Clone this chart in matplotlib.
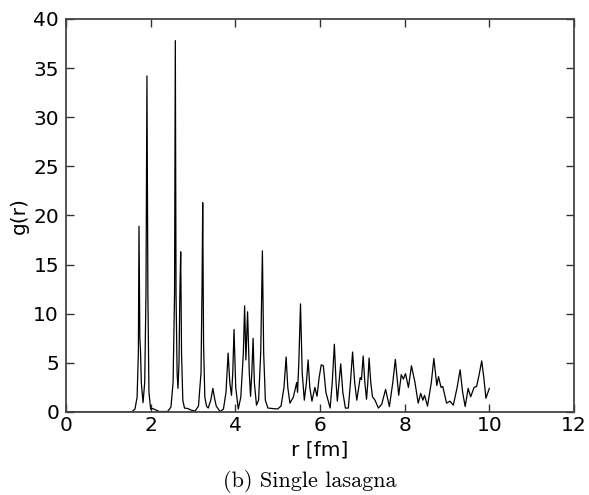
import matplotlib
matplotlib.use("Agg")
import matplotlib.pyplot as plt

# g(r) curve (r in fm)
r_vals = [0.0, 1.55, 1.63, 1.68, 1.71, 1.725, 1.745, 1.76, 1.78, 1.82, 1.86, 1.89, 1.913, 1.935, 1.96,
          2.0, 2.05, 2.1, 2.2, 2.4, 2.48, 2.53, 2.565, 2.583, 2.60, 2.625, 2.646, 2.67, 2.69, 2.71, 2.73,
          2.76, 2.80, 2.88, 2.95, 3.05, 3.13, 3.19, 3.215, 3.23, 3.25, 3.28, 3.32, 3.36, 3.42, 3.47, 3.51,
          3.55, 3.64, 3.72, 3.78, 3.83, 3.87, 3.91, 3.94, 3.97, 4.01, 4.07, 4.13, 4.19, 4.22, 4.25, 4.29,
          4.33, 4.36, 4.39, 4.42, 4.45, 4.5, 4.55, 4.6, 4.64, 4.67, 4.71, 4.77, 5.0, 5.08, 5.15, 5.20,
          5.24, 5.29, 5.37, 5.45, 5.47, 5.50, 5.54, 5.58, 5.63, 5.68, 5.72, 5.76, 5.81, 5.88, 5.93, 5.98,
          6.03, 6.08, 6.14, 6.24, 6.29, 6.34, 6.38, 6.41, 6.45, 6.49, 6.54, 6.6, 6.67, 6.72, 6.77, 6.82,
          6.87, 6.95, 6.98, 7.02, 7.06, 7.1, 7.13, 7.16, 7.2, 7.24, 7.3, 7.38, 7.46, 7.55, 7.64, 7.72,
          7.78, 7.82, 7.86, 7.92, 7.97, 8.02, 8.09, 8.16, 8.24, 8.32, 8.38, 8.43, 8.47, 8.54, 8.63, 8.69,
          8.76, 8.8, 8.86, 8.9, 8.99, 9.07, 9.15, 9.24, 9.31, 9.37, 9.43, 9.5, 9.56, 9.64, 9.7, 9.76,
          9.82, 9.87, 9.92, 10.0]
g_vals = [0.0, 0.0, 0.3, 1.5, 6.0, 18.9, 7.5, 6.3, 3.0, 0.95, 3.0, 12.0, 34.2, 12.0, 2.0,
          0.3, 0.35, 0.25, 0.05, 0.05, 0.5, 3.0, 12.0, 37.8, 12.0, 4.0, 2.4, 5.0, 12.0, 16.3, 6.0,
          1.2, 0.4, 0.35, 0.2, 0.1, 0.6, 4.0, 13.0, 21.3, 7.0, 1.5, 0.6, 0.4, 1.2, 2.4, 1.4,
          0.6, 0.05, 0.3, 2.0, 6.0, 3.0, 1.7, 4.0, 8.4, 2.5, 0.3, 1.5, 6.0, 10.8, 5.3, 10.2,
          4.0, 1.6, 4.0, 7.5, 3.0, 0.7, 1.2, 6.0, 16.4, 6.0, 1.2, 0.4, 0.3, 0.6, 2.5, 5.6,
          2.5, 0.9, 1.5, 3.0, 2.0, 5.0, 11.0, 4.0, 1.2, 3.0, 5.3, 2.5, 1.1, 2.5, 1.6, 3.5,
          4.8, 4.7, 2.0, 0.4, 3.0, 6.9, 3.0, 1.1, 3.0, 4.9, 2.0, 0.4, 0.4, 3.0, 6.1, 3.0,
          1.2, 3.5, 3.3, 5.7, 3.0, 1.3, 3.0, 5.5, 3.0, 1.55, 1.2, 0.4, 0.8, 2.3, 0.55, 3.0,
          5.35, 3.5, 1.7, 3.8, 3.35, 3.9, 2.5, 4.7, 3.1, 0.9, 1.9, 1.2, 1.7, 0.6, 3.0, 5.45,
          2.7, 3.6, 2.5, 2.6, 0.9, 1.1, 0.7, 2.5, 4.3, 2.0, 0.55, 2.4, 1.55, 2.5, 2.6, 3.8,
          5.2, 3.5, 1.4, 2.4]

x_ticks = [0, 2, 4, 6, 8, 10, 12]
y_ticks = [0, 5, 10, 15, 20, 25, 30, 35, 40]

fig = plt.figure(figsize=(5.89, 4.95), dpi=100)
ax = fig.add_axes([0.112, 0.1677, 0.8625, 0.794])
ax.plot(r_vals, g_vals, color="black", lw=0.9)

ax.set_xlim(0, 12)
ax.set_ylim(0, 40)
ax.set_xticks(x_ticks)
ax.set_yticks(y_ticks)
ax.tick_params(direction="in", top=True, right=True, length=6, width=1.0,
               labelsize=14.5, pad=3, color="#333333")
ax.tick_params(axis="y", pad=5)
for sp in ax.spines.values():
    sp.set_linewidth(1.3)
    sp.set_color("#444444")

ax.set_xlabel("r [fm]", fontsize=14.5, labelpad=4)
ax.set_ylabel("g(r)", fontsize=14.5, labelpad=3)

fig.text(0.526, 0.027, "(b) Single lasagna", family="cmr10", fontsize=16,
         ha="center", va="center")

fig.savefig("out.png", dpi=100)
